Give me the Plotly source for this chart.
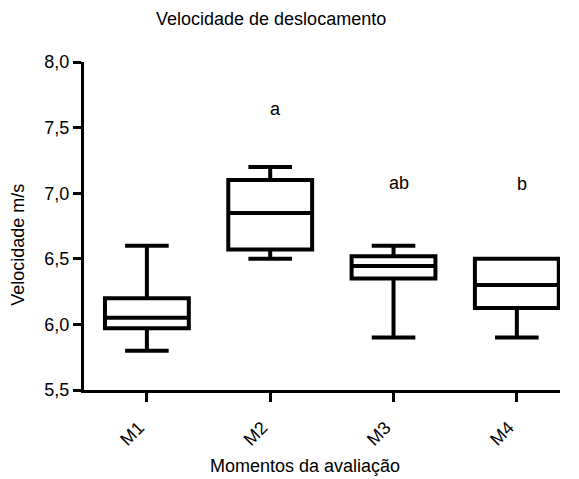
import plotly.graph_objects as go

categories = ["M1", "M2", "M3", "M4"]
lower = [5.8, 6.5, 5.9, 5.9]
q1 = [5.97, 6.57, 6.35, 6.125]
median = [6.05, 6.85, 6.445, 6.3]
q3 = [6.2, 7.1, 6.52, 6.5]
upper = [6.6, 7.2, 6.6, 6.5]

letters = ["", "a", "ab", "b"]
letter_y = [None, 7.64, 7.08, 7.07]

y_ticks = [5.5, 6.0, 6.5, 7.0, 7.5, 8.0]
y_ticktext = ["5,5", "6,0", "6,5", "7,0", "7,5", "8,0"]

FONT = "Liberation Sans, Arial, sans-serif"
FS = 18

fig = go.Figure()
fig.add_trace(go.Box(
    x=categories, q1=q1, median=median, q3=q3,
    lowerfence=lower, upperfence=upper,
    width=0.68, whiskerwidth=0.52,
    line=dict(color="black", width=4),
    fillcolor="white", boxpoints=False, showlegend=False,
    hoverinfo="skip",
))

for i, (t, yv) in enumerate(zip(letters, letter_y)):
    if t:
        fig.add_annotation(x=i, y=yv, text=t, showarrow=False, xshift=5,
                           font=dict(family=FONT, size=FS, color="black"))

fig.add_annotation(text="Velocidade de deslocamento", xref="paper", yref="paper",
                   x=0.393, y=1.131, showarrow=False, xanchor="center", yanchor="middle",
                   font=dict(family=FONT, size=FS, color="black"))
fig.add_annotation(text="Velocidade m/s", xref="paper", yref="paper",
                   x=-0.139, y=0.442, showarrow=False, textangle=-90,
                   xanchor="center", yanchor="middle",
                   font=dict(family=FONT, size=FS, color="black"))
fig.add_annotation(text="Momentos da avaliação", xref="paper", yref="paper",
                   x=0.464, y=-0.232, showarrow=False,
                   xanchor="center", yanchor="middle",
                   font=dict(family=FONT, size=FS, color="black"))

# page body adds an 8px offset, so the figure is 8px smaller and margins shifted
fig.update_layout(
    width=571, height=471,
    margin=dict(l=76, r=19, t=54, b=89),
    paper_bgcolor="white", plot_bgcolor="white",
    font=dict(family=FONT, size=FS, color="black"),
    xaxis=dict(range=[-0.51, 3.35], showgrid=False, zeroline=False,
               showline=True, linecolor="black", linewidth=3,
               ticks="outside", ticklen=9, tickwidth=3, tickcolor="black",
               tickangle=-45, ticklabelshift=-8, ticklabelstandoff=8,
               tickfont=dict(family=FONT, size=FS)),
    yaxis=dict(range=[5.5, 8.0], showgrid=False, zeroline=False,
               showline=True, linecolor="black", linewidth=3,
               ticks="outside", ticklen=8, tickwidth=3, tickcolor="black",
               tickvals=y_ticks, ticktext=y_ticktext,
               tickfont=dict(family=FONT, size=FS)),
)

fig.write_html("out.html")
